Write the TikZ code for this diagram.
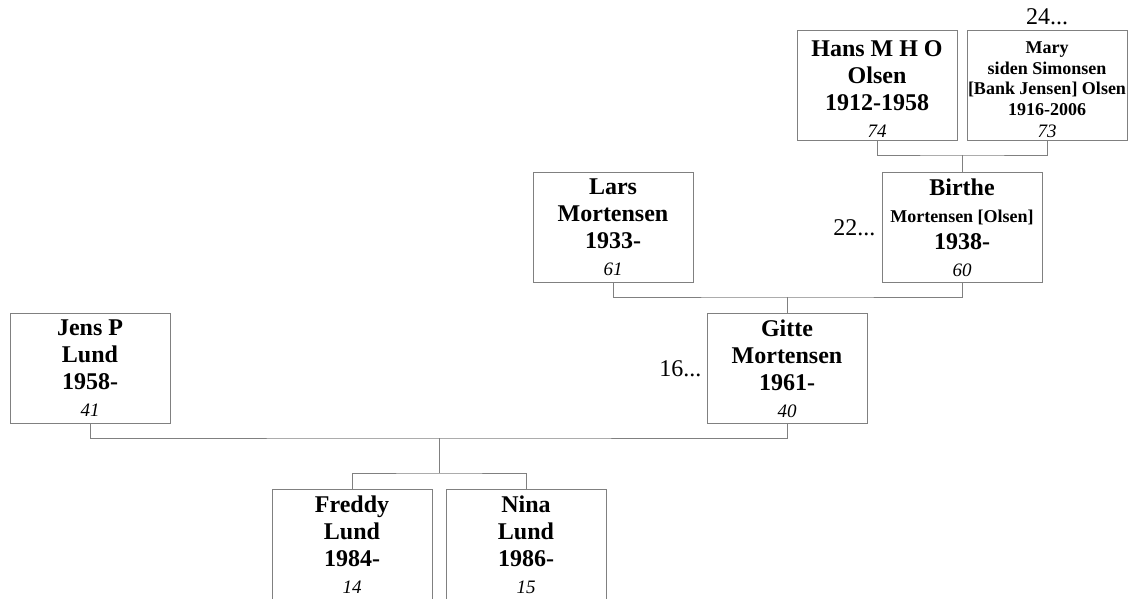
\documentclass[tikz,border=0pt]{standalone}
\usepackage{fontspec}
\setmainfont{Liberation Serif}
\usetikzlibrary{positioning}

\definecolor{linegray}{RGB}{128,128,128}

\tikzset{
  person/.style={draw=linegray, line width=1pt, anchor=north, align=flush center,
    text width=160pt, minimum height=110pt, inner sep=0pt,
    font=\fontsize{24}{27}\selectfont\bfseries},
  link/.style={draw=linegray, line width=1pt},
  more/.style={inner sep=0pt, font=\fontsize{24}{27}\selectfont}
}
\newcommand{\age}[1]{\mdseries\itshape\fontsize{19}{\baselineskip}\selectfont #1}

\begin{document}
\begin{tikzpicture}[x=1pt, y=-1pt]
  \useasboundingbox (0,0) rectangle (1137,599);

  % grandparents
  \node[person] (hans) at (877,30) {\rule{0pt}{24pt}Hans M H O\\ Olsen\\ 1912-1958\\ \age{74}};
  \node[person, font=\fontsize{18}{20.5}\selectfont\bfseries] (mary) at (1047,30)
    {\rule{0pt}{21pt}Mary\\ siden Simonsen\\ {[}Bank Jensen{]} Olsen\\ 1916-2006\\[2pt] \age{73}};

  % parents
  \node[person] (lars) at (613,172) {Lars\\ Mortensen\\ 1933-\\ \age{61}};
  \node[person] (birthe) at (962,172) {Birthe\\ \fontsize{18}{27}\selectfont Mortensen [Olsen]\\
    \fontsize{24}{27}\selectfont 1938-\\ \age{60}};

  \node[person] (jens) at (90,313) {Jens P\\ Lund\\ 1958-\\ \age{41}};
  \node[person] (gitte) at (787,313) {Gitte\\ Mortensen\\ 1961-\\ \age{40}};

  % children
  \node[person] (freddy) at (352,489) {Freddy\\ Lund\\ 1984-\\ \age{14}};
  \node[person] (nina) at (526,489) {Nina\\ Lund\\ 1986-\\ \age{15}};

  % more ancestors
  \node[more, above=5pt of mary] (marymore) {24...};
  \node[more, left=6pt of birthe] (birthemore) {22...};
  \node[more, left=5pt of gitte] (gittemore) {16...};

  \coordinate (j1) at (962,155);
  \coordinate (j2) at (787,297);
  \coordinate (j3) at (439,438);
  \coordinate (j4) at (439,473);

  \draw[link] (hans.south) |- (j1) -| (mary.south);
  \draw[link] (j1) -- (birthe.north);
  \draw[link] (lars.south) |- (j2) -| (birthe.south);
  \draw[link] (j2) -- (gitte.north);
  \draw[link] (jens.south) |- (j3) -| (gitte.south);
  \draw[link] (j3) -- (j4);
  \draw[link] (freddy.north) |- (j4) -| (nina.north);

\end{tikzpicture}
\end{document}
